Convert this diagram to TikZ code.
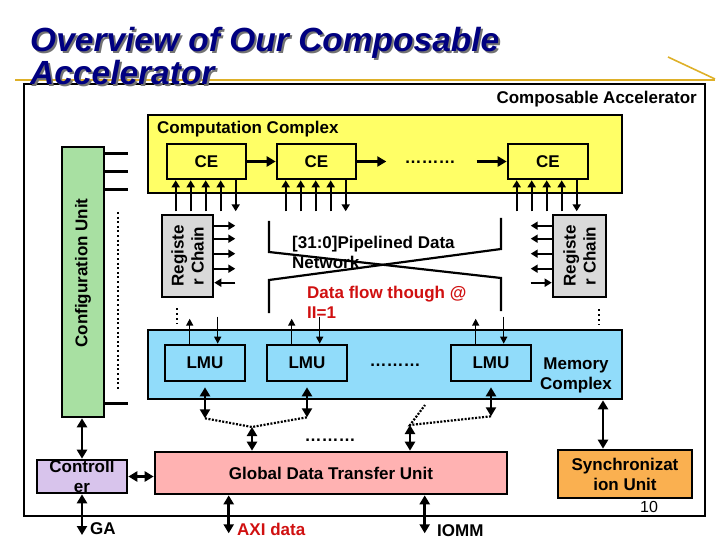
\documentclass[tikz,border=0pt]{standalone}
\usepackage{fontspec}
\setmainfont{Liberation Sans}
\usetikzlibrary{arrows.meta,calc}
\definecolor{navyT}{RGB}{0,0,128}
\definecolor{goldL}{RGB}{222,176,40}
\definecolor{yelF}{RGB}{255,255,102}
\definecolor{greyF}{RGB}{217,217,217}
\definecolor{greenF}{RGB}{168,224,162}
\definecolor{blueF}{RGB}{145,220,250}
\definecolor{pinkF}{RGB}{255,178,178}
\definecolor{lavF}{RGB}{216,196,236}
\definecolor{orangeF}{RGB}{250,176,80}
\definecolor{redT}{RGB}{208,16,16}
\newcommand\mytxt{\fontsize{17}{20}\selectfont\bfseries}
\begin{document}
\begin{tikzpicture}[x=1pt,y=-1pt,
  box/.style={draw, line width=2.6pt, inner sep=0pt, font=\mytxt, align=center},
  lbl/.style={inner sep=0pt, font=\mytxt},
  arr/.style={line width=2.6pt, -{Triangle[length=9pt,width=10pt]}},
  smarr/.style={line width=2.2pt, -{Triangle[length=7pt,width=8pt]}},
  thinarr/.style={line width=1.5pt, -{Triangle[length=7pt,width=7pt]}},
  darr/.style={line width=2.6pt, {Triangle[length=9pt,width=10pt]}-{Triangle[length=9pt,width=10pt]}},
  net/.style={line width=2.2pt},
  dotline/.style={line width=2.2pt, dash pattern=on 2pt off 1.5pt},
  vdots/.style={line width=2.2pt, dash pattern=on 2pt off 3pt},
  tick/.style={line width=2.6pt}]
\useasboundingbox (0,0) rectangle (720,540);
% gold rule
\draw[goldL, line width=1.6pt] (15,80) -- (715,80);
\draw[goldL, line width=1.6pt] (668,57) -- (715,79);
% outer box
\node[box, minimum width=681, minimum height=432] (outer) at (364.5,300) {};
\node[lbl, anchor=base east] (outerl) at (697,104) {Composable Accelerator};
% computation complex
\node[box, fill=yelF, minimum width=474, minimum height=78] (comp) at (385,154) {};
\node[lbl, anchor=base west] (compl) at (157,134) {Computation Complex};
\node[box, fill=yelF, minimum width=79, minimum height=35] (ce1) at (206.5,161.5) {CE};
\node[box, fill=yelF, minimum width=79, minimum height=35] (ce2) at (316.5,161.5) {CE};
\node[box, fill=yelF, minimum width=80, minimum height=35] (ce3) at (548,161.5) {CE};
\node[lbl, anchor=base] (dotsa) at (430,164) {………};
\draw[arr] (ce1.east) -- (ce2.east -| ce2.west);
\draw[arr] (ce2.east) -- ++(29,0);
\draw[arr] ([xshift=-30pt]ce3.west) -- (ce3.west);
% CE input/output arrows
\foreach \c in {ce1,ce2,ce3}{
  \foreach \o in {10,25,40,55}{
    \draw[smarr] ([xshift=\o pt,yshift=-31pt]\c.south west) -- ([xshift=\o pt]\c.south west);
  }
  \draw[smarr] ([xshift=70pt]\c.south west) -- ([xshift=70pt,yshift=-31pt]\c.south west);
}
% register chains
\node[box, fill=greyF, minimum width=51, minimum height=82] (rc1) at (187.5,256) {};
\node[lbl, rotate=90, align=center] (rc1t) at (rc1.center) {Registe\\r Chain};
\node[box, fill=greyF, minimum width=53, minimum height=82] (rc2) at (579.5,256) {};
\node[lbl, rotate=90, align=center] (rc2t) at (rc2.center) {Registe\\r Chain};
\foreach \o in {12,25,40,55}{
  \draw[smarr] ([yshift=-\o pt]rc1.north east) -- ++(21,0);
  \draw[smarr] ([yshift=-\o pt]rc2.north west) -- ++(-21,0);
}
\draw[smarr] ([yshift=-69pt]rc1.north east) ++(21,0) -- ([yshift=-69pt]rc1.north east);
\draw[smarr] ([yshift=-69pt]rc2.north west) ++(-21,0) -- ([yshift=-69pt]rc2.north west);
\draw[vdots] ([xshift=-10.5pt,yshift=-10pt]rc1.south) -- ++(0,16);
\draw[vdots] ([xshift=19.5pt,yshift=-11pt]rc2.south) -- ++(0,16);
% network
\draw[net] (269,221) -- (269,252) -- (501,278) -- (501,311);
\draw[net] (269,313) -- (269,280) -- (501,249) -- (501,218);
\node[lbl, anchor=base west, align=left] (netl) at (292,268) {[31:0]Pipelined Data\\Network};
\node[lbl, anchor=base west, align=left, text=redT] (flow) at (307,318) {Data flow though @\\II=1};
% configuration unit
\node[box, fill=greenF, minimum width=42, minimum height=270] (cfg) at (83,282) {};
\node[lbl, rotate=90] (cfgt) at ([yshift=9pt]cfg.center) {Configuration Unit};
\foreach \o in {8,26,44}{
  \draw[tick] ([yshift=-\o pt]cfg.north east) -- ++(23,0);
}
\draw[tick] ([yshift=15pt]cfg.south east) -- ++(23,0);
\draw[vdots, dash pattern=on 2pt off 2.6pt] (118,212) -- (118,390);
% memory complex
\node[box, fill=blueF, minimum width=474, minimum height=69] (mem) at (385,364.5) {};
\node[box, fill=blueF, minimum width=80, minimum height=36] (lmu1) at (205,363) {LMU};
\node[box, fill=blueF, minimum width=80, minimum height=36] (lmu2) at (307,363) {LMU};
\node[box, fill=blueF, minimum width=80, minimum height=36] (lmu3) at (491,363) {LMU};
\node[lbl, anchor=base] (dotsb) at (395,366) {………};
\node[lbl, align=center] (meml) at (576,375) {Memory\\Complex};
\foreach \l in {lmu1,lmu2,lmu3}{
  \draw[thinarr] ([xshift=26pt]\l.north west) -- ++(0,-25);
  \draw[thinarr] ([xshift=54pt,yshift=27pt]\l.north west) -- ([xshift=54pt]\l.north west);
}
% links to global unit
\coordinate (l1b) at ($(lmu1.south)+(0,36)$);
\coordinate (l2b) at ($(lmu2.south)+(0,35)$);
\coordinate (l3b) at ($(lmu3.south)+(0,34)$);
\foreach \l/\b in {lmu1/l1b,lmu2/l2b,lmu3/l3b}{
  \draw[darr, line width=2.4pt] ([yshift=-5pt]\l.south) -- (\b);
}
\coordinate (j1) at (252,427);
\coordinate (j2) at (410,425);
\coordinate (jt) at (425,405);
\draw[dotline] (l1b) -- (j1) -- (l2b);
\draw[dotline] (l3b) -- (j2) -- (jt);
\node[lbl, anchor=base] (dotsc) at (330,441) {………};
\node[box, fill=pinkF, minimum width=352, minimum height=42] (glob) at (331,473) {Global Data Transfer Unit};
\draw[darr] (j1) -- (j1 |- glob.north);
\draw[darr] (j2) -- (j2 |- glob.north);
% controller
\node[box, fill=lavF, minimum width=90, minimum height=33] (ctrl) at (82,476.5) {Controll\\er};
\draw[darr] (cfg.south -| ctrl.north) -- (ctrl.north);
\draw[darr] (ctrl.east) -- (ctrl.east -| glob.west);
\coordinate (ga) at (82,535);
\draw[darr] (ctrl.south) -- (ga);
\node[lbl, anchor=base west] (gat) at (90,534) {GA};
\draw[darr] ([xshift=75pt]glob.south west) -- ++(0,38);
\node[lbl, anchor=base west, text=redT] (axi) at (237,535) {AXI data};
\draw[darr] ([xshift=271pt]glob.south west) -- ++(0,38);
\node[lbl, anchor=base west] (iomm) at (437,536) {IOMM};
% synchronization unit
\node[box, fill=orangeF, minimum width=134, minimum height=48] (sync) at (625,474) {Synchronizat\\ion Unit};
\draw[darr] ([xshift=-22pt]sync.north) -- ([xshift=-22pt]sync.north |- mem.south);
\node[inner sep=0pt, font=\fontsize{16}{18}\selectfont, anchor=base] (pnum) at (649,512) {10};
% title
\node[inner sep=0pt, anchor=base west, align=left, text=black!55, font=\fontsize{33.5}{33}\selectfont\bfseries\itshape] (titles) at (32,87) {Overview of Our Composable\\Accelerator};
\node[inner sep=0pt, anchor=base west, align=left, text=navyT, font=\fontsize{33.5}{33}\selectfont\bfseries\itshape] (title) at (30,85) {Overview of Our Composable\\Accelerator};
\end{tikzpicture}
\end{document}
